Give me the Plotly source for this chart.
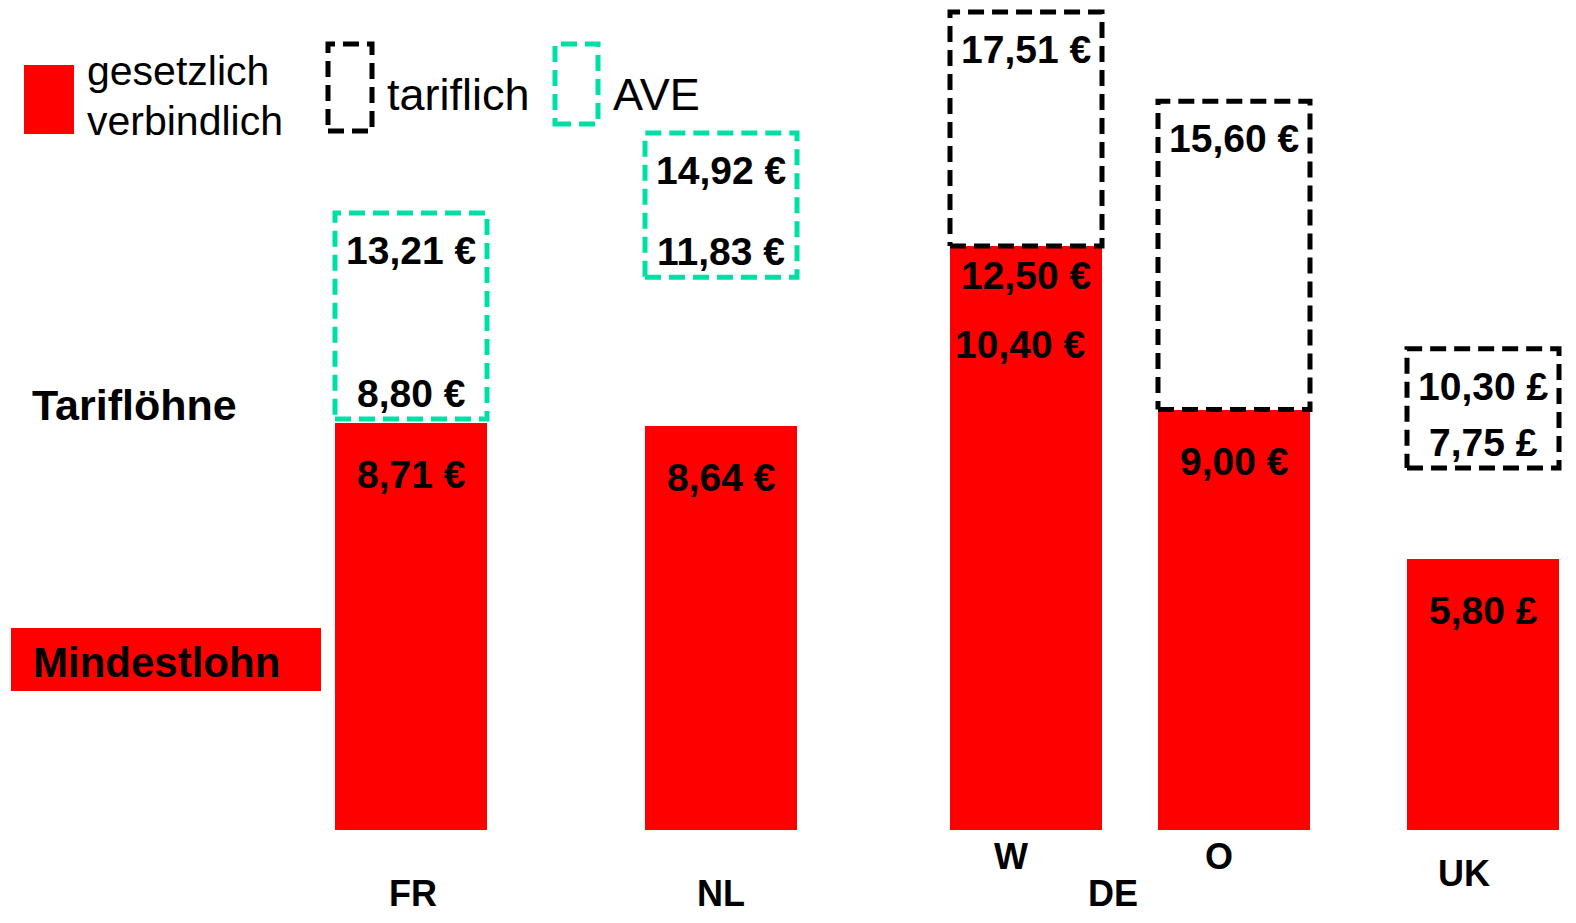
import plotly.graph_objects as go

# --- data -----------------------------------------------------------------
columns = ["FR", "NL", "W", "O", "UK"]

mindestlohn = [8.71, 8.64, 12.50, 9.00, 5.80]
mindestlohn_text = ["8,71 €", "8,64 €", "12,50 €", "9,00 €", "5,80 £"]

tarif_low = [8.80, 11.83, 12.50, 9.00, 7.75]
tarif_high = [13.21, 14.92, 17.51, 15.60, 10.30]
tarif_low_text = ["8,80 €", "11,83 €", "", "", "7,75 £"]
tarif_high_text = ["13,21 €", "14,92 €", "17,51 €", "15,60 €", "10,30 £"]
tarif_kind = ["AVE", "AVE", "tariflich", "tariflich", "tariflich"]

extra_value = [None, None, 10.40, None, None]
extra_text = ["", "", "10,40 €", "", ""]

group_labels = ["FR", "NL", "W", "O", "DE", "UK"]

# --- layout constants -----------------------------------------------------
W, H = 1576, 923
col_x = [411, 721, 1026, 1234, 1483]
bar_w = 152
base_px, top_px = 830, 12
group_label_pos = [(413, 893), (721, 893), (1011, 856), (1219, 856), (1113, 893), (1464, 873)]

RED = "#FF0000"
TEAL = "#00E0A4"
BLACK = "#000000"
kind_color = {"AVE": TEAL, "tariflich": BLACK}
FONT = "Liberation Sans, Arial, sans-serif"
NARROW = "Liberation Sans Narrow, Arial Narrow, Liberation Sans, sans-serif"
DASH = "16px,8px"
LW = 5

scale = (base_px - top_px) / max(tarif_high)
y_range = [-(H - base_px) / scale, max(tarif_high) + top_px / scale]


def px(xp, yp):
    """Pixel position -> paper coordinates."""
    return xp / W, 1 - yp / H


fig = go.Figure()

# statutory minimum wage bars
fig.add_trace(go.Bar(
    x=col_x, y=mindestlohn, width=bar_w,
    marker=dict(color=RED, line=dict(width=0)),
    hoverinfo="skip", showlegend=False,
))

# collective-agreement wage ranges as dashed outlines
for cx, lo, hi, kind in zip(col_x, tarif_low, tarif_high, tarif_kind):
    x0, x1 = cx - bar_w / 2, cx + bar_w / 2
    fig.add_trace(go.Scatter(
        x=[x0, x1, x1, x0, x0], y=[lo, lo, hi, hi, lo],
        mode="lines",
        line=dict(color=kind_color[kind], width=LW, dash=DASH),
        hoverinfo="skip", showlegend=False,
    ))

annotations = []
val_font = dict(family=FONT, size=39, color=BLACK, weight=700)

for cx, v, t in zip(col_x, mindestlohn, mindestlohn_text):
    shift = -6 if t == "12,50 €" else -28
    annotations.append(dict(x=cx, y=v, text=t, xref="x", yref="y", yanchor="top",
                            yshift=shift, showarrow=False, font=val_font))

for cx, hi, t in zip(col_x, tarif_high, tarif_high_text):
    annotations.append(dict(x=cx, y=hi, text=t, xref="x", yref="y", yanchor="top",
                            yshift=-14, showarrow=False, font=val_font))

for cx, lo, t in zip(col_x, tarif_low, tarif_low_text):
    if t:
        annotations.append(dict(x=cx, y=lo, text=t, xref="x", yref="y", yanchor="bottom",
                                yshift=2, showarrow=False, font=val_font))

for cx, v, t in zip(col_x, extra_value, extra_text):
    if v is not None:
        annotations.append(dict(x=cx - 6, y=v, text=t, xref="x", yref="y", yanchor="middle",
                                showarrow=False, font=val_font))

for lab, (lx, ly) in zip(group_labels, group_label_pos):
    gx, gy = px(lx, ly)
    annotations.append(dict(x=gx, y=gy, text=lab, xref="paper", yref="paper",
                            xanchor="center", yanchor="middle", showarrow=False,
                            font=dict(family=NARROW, size=36, color=BLACK, weight=700)))

# row captions on the left
tx, ty = px(30, 405)
annotations.append(dict(x=tx, y=ty, text="Tariflöhne", xref="paper", yref="paper",
                        xanchor="left", yanchor="middle", showarrow=False,
                        font=dict(family=FONT, size=43, color=BLACK, weight=700)))
mx, my = px(31, 662)
annotations.append(dict(x=mx, y=my, text="Mindestlohn", xref="paper", yref="paper",
                        xanchor="left", yanchor="middle", showarrow=False,
                        font=dict(family=FONT, size=42, color=BLACK, weight=700)))

# legend texts
leg_font_small = dict(family=FONT, size=41, color=BLACK)
leg_font = dict(family=FONT, size=45, color=BLACK)
for text, (lx, ly), f in [
    ("gesetzlich", (85, 71), leg_font_small),
    ("verbindlich", (85, 121), leg_font_small),
    ("tariflich", (385, 94), leg_font),
    ("AVE", (611, 94), leg_font),
]:
    ax, ay = px(lx, ly)
    annotations.append(dict(x=ax, y=ay, text=text, xref="paper", yref="paper",
                            xanchor="left", yanchor="middle", showarrow=False, font=f))

shapes = []


def rect_paper(x0, y0, x1, y1, **kw):
    a, b = px(x0, y0)
    c, d = px(x1, y1)
    return dict(type="rect", xref="paper", yref="paper", x0=a, y0=d, x1=c, y1=b, **kw)


# "Mindestlohn" caption band and legend swatches
shapes.append(rect_paper(11, 628, 321, 691, fillcolor=RED, line=dict(width=0), layer="below"))
shapes.append(rect_paper(24, 65, 74, 134, fillcolor=RED, line=dict(width=0)))
shapes.append(rect_paper(328, 44, 372, 131, fillcolor="rgba(0,0,0,0)",
                         line=dict(color=BLACK, width=LW, dash=DASH)))
shapes.append(rect_paper(555, 44, 598, 124, fillcolor="rgba(0,0,0,0)",
                         line=dict(color=TEAL, width=LW, dash=DASH)))

fig.update_layout(
    width=W, height=H,
    margin=dict(l=0, r=0, t=0, b=0),
    paper_bgcolor="white", plot_bgcolor="white",
    showlegend=False,
    xaxis=dict(range=[0, W], visible=False, fixedrange=True),
    yaxis=dict(range=y_range, visible=False, fixedrange=True),
    annotations=annotations,
    shapes=shapes,
    bargap=0,
)

fig.write_html("out.html")
